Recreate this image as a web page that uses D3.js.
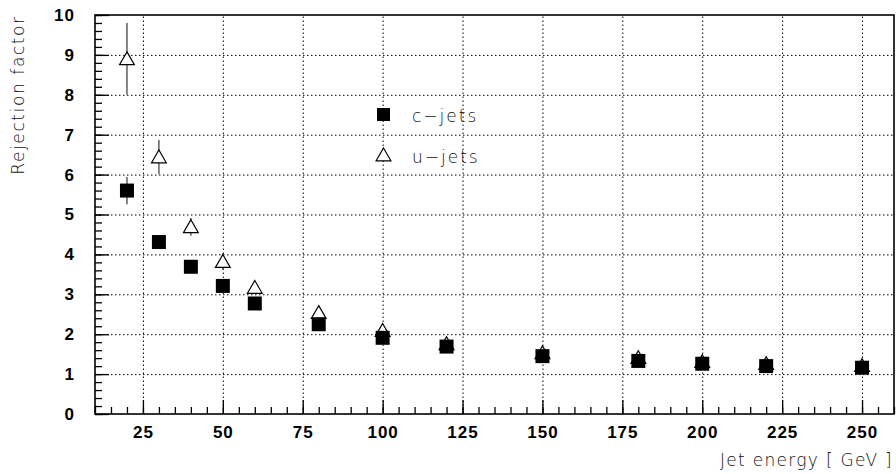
<!DOCTYPE html>
<html>
<head>
<meta charset="utf-8">
<script src="https://cdn.jsdelivr.net/npm/d3@7"></script>
<style>
  body { margin: 0; background: #fff; }
  .lbl { font-family: "Liberation Sans", Arial, sans-serif; font-weight: bold; font-size: 17px; }
  .thin { font-family: "DejaVu Sans", sans-serif; font-weight: 200; font-size: 17px; fill: #111; }
</style>
</head>
<body>
<svg width="896" height="474"></svg>
<script>
// jet energies and rejection factors
var energy = [20, 30, 40, 50, 60, 80, 100, 120, 150, 180, 200, 220, 250];
var cJets = [5.6, 4.31, 3.69, 3.21, 2.77, 2.25, 1.91, 1.69, 1.45, 1.33, 1.26, 1.20, 1.16];
var cErr = [0.34, 0.15, 0.12, 0.1, 0.08, 0.06, 0.05, 0.05, 0.04, 0.04, 0.04, 0.04, 0.04];
var uJets = [8.9, 6.44, 4.69, 3.82, 3.17, 2.54, 2.09, 1.76, 1.53, 1.41, 1.31, 1.26, 1.21];
var uErr = [0.9, 0.43, 0.22, 0.2, 0.15, 0.12, 0.1, 0.08, 0.07, 0.06, 0.05, 0.05, 0.05];
var xTicks = [25, 50, 75, 100, 125, 150, 175, 200, 225, 250];
var yTicks = [0, 1, 2, 3, 4, 5, 6, 7, 8, 9, 10];
var legendLabels = ["c\u2212jets", "u\u2212jets"];

var width = 896;
var height = 474;
var margin = {left: 95, top: 15, right: 2, bottom: 60};

var xScale = d3.scaleLinear().domain([10, 260]).range([margin.left, width - margin.right]);
var yScale = d3.scaleLinear().domain([0, 10]).range([height - margin.bottom, margin.top]);

var svg = d3.select('svg');
var plotW = width - margin.right - margin.left;
var plotH = height - margin.bottom - margin.top;

// dotted grid
svg.append('g')
  .attr('transform', 'translate(' + margin.left + ',0)')
  .call(d3.axisLeft(yScale).tickValues(d3.range(1, 10)).tickSize(-plotW).tickFormat(''))
  .call(function (g) { g.select('.domain').remove(); })
  .selectAll('line').attr('stroke', '#000').attr('stroke-dasharray', '1.5,2.5');

svg.append('g')
  .attr('transform', 'translate(0,' + (height - margin.bottom) + ')')
  .call(d3.axisBottom(xScale).tickValues(xTicks).tickSize(-plotH).tickFormat(''))
  .call(function (g) { g.select('.domain').remove(); })
  .selectAll('line').attr('stroke', '#000').attr('stroke-dasharray', '1.5,2.5');

// minor ticks
svg.append('g')
  .attr('transform', 'translate(' + margin.left + ',0)')
  .call(d3.axisLeft(yScale).tickValues(d3.range(0, 10.01, 0.2)).tickSize(-7).tickFormat(''))
  .call(function (g) { g.select('.domain').remove(); })
  .selectAll('line').attr('stroke-width', 1.3);

svg.append('g')
  .attr('transform', 'translate(0,' + (height - margin.bottom) + ')')
  .call(d3.axisBottom(xScale).tickValues(d3.range(10, 261, 5)).tickSize(-7).tickFormat(''))
  .call(function (g) { g.select('.domain').remove(); })
  .selectAll('line').attr('stroke-width', 1.3);

// major ticks + labels
var yAxis = svg.append('g')
  .attr('transform', 'translate(' + margin.left + ',0)')
  .call(d3.axisLeft(yScale).tickValues(yTicks).tickSize(-14).tickPadding(20).tickFormat(d3.format('d')));
yAxis.select('.domain').remove();
yAxis.selectAll('line').attr('stroke-width', 1.3);
yAxis.selectAll('text').attr('class', 'lbl').attr('font-size', null).attr('font-family', null).style('letter-spacing', '1px');

var xAxis = svg.append('g')
  .attr('transform', 'translate(0,' + (height - margin.bottom) + ')')
  .call(d3.axisBottom(xScale).tickValues(xTicks).tickSize(-14).tickPadding(12).tickFormat(d3.format('d')));
xAxis.select('.domain').remove();
xAxis.selectAll('line').attr('stroke-width', 1.3);
xAxis.selectAll('text').attr('class', 'lbl').attr('font-size', null).attr('font-family', null).style('letter-spacing', '1px');

// frame
svg.append('rect')
  .attr('x', margin.left).attr('y', margin.top)
  .attr('width', plotW).attr('height', plotH)
  .attr('fill', 'none').attr('stroke', '#000').attr('stroke-width', 1.6);

// error bars
function errBars(vals, errs) {
  svg.append('g').selectAll('line')
    .data(energy)
    .enter()
    .append('line')
    .attr('x1', function (d) { return xScale(d); })
    .attr('x2', function (d) { return xScale(d); })
    .attr('y1', function (d, i) { return yScale(vals[i] + errs[i]); })
    .attr('y2', function (d, i) { return yScale(vals[i] - errs[i]); })
    .attr('stroke', '#444')
    .attr('stroke-width', 1.3);
}
errBars(uJets, uErr);
errBars(cJets, cErr);

var tri = d3.symbol().type(d3.symbolTriangle).size(95);
var sq = 14;

svg.append('g').selectAll('path')
  .data(energy)
  .enter()
  .append('path')
  .attr('d', tri)
  .attr('transform', function (d, i) { return 'translate(' + xScale(d) + ',' + (yScale(uJets[i]) + 1.5) + ')'; })
  .attr('fill', '#fff')
  .attr('stroke', '#000')
  .attr('stroke-width', 1.2);

svg.append('g').selectAll('rect')
  .data(energy)
  .enter()
  .append('rect')
  .attr('x', function (d) { return xScale(d) - sq / 2; })
  .attr('y', function (d, i) { return yScale(cJets[i]) - sq / 2; })
  .attr('width', sq)
  .attr('height', sq)
  .attr('fill', '#000');

// legend
var leg = svg.append('g');
leg.append('rect').attr('x', 377).attr('y', 108).attr('width', 13).attr('height', 13).attr('fill', '#000');
leg.append('path').attr('d', tri).attr('transform', 'translate(383.5,156.5)')
  .attr('fill', '#fff').attr('stroke', '#000').attr('stroke-width', 1.2);
leg.selectAll('text')
  .data(legendLabels)
  .enter()
  .append('text')
  .attr('class', 'thin')
  .attr('x', 412)
  .attr('y', function (d, i) { return 121.5 + i * 41; })
  .style('letter-spacing', '2px')
  .text(function (d) { return d; });

// axis titles
svg.append('text')
  .attr('class', 'thin')
  .attr('transform', 'rotate(-90)')
  .attr('x', -95)
  .attr('y', 24)
  .style('text-anchor', 'middle')
  .style('letter-spacing', '1.6px')
  .text('Rejection factor');

svg.append('text')
  .attr('class', 'thin')
  .attr('x', 893)
  .attr('y', 466)
  .style('text-anchor', 'end')
  .style('letter-spacing', '1.3px')
  .text('Jet energy [ GeV ]');
</script>
</body>
</html>
